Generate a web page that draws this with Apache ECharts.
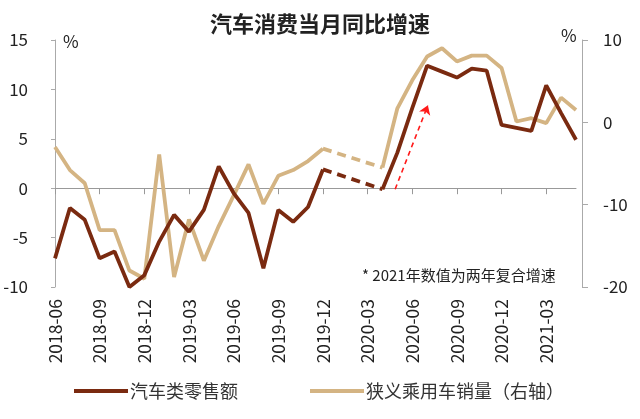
<!DOCTYPE html>
<html>
<head>
<meta charset="utf-8">
<script src="https://cdn.jsdelivr.net/npm/echarts@6/dist/echarts.min.js"></script>
<style>
  html, body { margin: 0; padding: 0; background: #fff; }
  #chart { width: 640px; height: 419px; }
</style>
</head>
<body>
<div id="chart"></div>
<script>
// 月份：2018-06 ~ 2021-05
const months = [
  '2018-06','2018-07','2018-08','2018-09','2018-10','2018-11','2018-12',
  '2019-01','2019-02','2019-03','2019-04','2019-05','2019-06','2019-07','2019-08','2019-09','2019-10','2019-11','2019-12',
  '2020-01','2020-02','2020-03','2020-04','2020-05','2020-06','2020-07','2020-08','2020-09','2020-10','2020-11','2020-12',
  '2021-01','2021-02','2021-03','2021-04','2021-05'
];
// 汽车类零售额（左轴，%）
const autoRetail = [
  -7.1, -2.0, -3.2, -7.1, -6.4, -10.0, -8.8,
  -5.4, -2.7, -4.4, -2.2, 2.2, -0.5, -2.5, -8.1, -2.2, -3.4, -1.9, 1.9,
  null, null, null, -0.1, 3.6, 8.1, 12.4, 11.8, 11.2, 12.1, 11.9, 6.4,
  6.1, 5.8, 10.4, 7.6, 4.9
];
// 狭义乘用车销量（右轴，%）
const carSales = [
  -3.0, -5.8, -7.4, -13.1, -13.1, -18.0, -19.0,
  -3.9, -18.8, -11.8, -16.8, -12.6, -8.9, -5.1, -9.9, -6.5, -5.8, -4.7, -3.2,
  null, null, null, -5.5, 1.7, 5.1, 8.0, 9.0, 7.4, 8.1, 8.1, 6.6,
  0.1, 0.5, -0.1, 3.0, 1.5
];
// 2020-01 ~ 2020-03 缺口用虚线连接
const gapIdx = [18, 22];
// 红色虚线箭头（月份序号, 左轴数值）
const arrowFrom = [22.85, -0.1];
const arrowTo = [25.05, 8.4];

const leftTicks = { min: -10, max: 15, interval: 5 };
const rightTicks = { min: -20, max: 10, interval: 10 };

function gapSeries(arr) {
  return arr.map((v, i) => (gapIdx.indexOf(i) >= 0 ? v : null));
}

const darkColor = '#7a2a10';
const lightColor = '#d4b483';
const font = '"Noto Sans CJK SC", "Noto Sans", sans-serif';

const chart = echarts.init(document.getElementById('chart'));

const option = {
  animation: false,
  textStyle: { fontFamily: font },
  title: {
    text: '汽车消费当月同比增速',
    left: 'center',
    top: 8,
    textStyle: { fontSize: 22, fontWeight: 'bold', color: '#222', fontFamily: font }
  },
  grid: { left: 55, right: 64, top: 40, bottom: 132 },
  legend: {
    bottom: 14,
    left: 69,
    icon: 'rect',
    itemWidth: 54,
    itemHeight: 4,
    itemGap: 72,
    textStyle: { fontSize: 18, color: '#333', padding: [0, 0, 0, -3] },
    data: ['汽车类零售额', '狭义乘用车销量（右轴）']
  },
  xAxis: [
    {
      type: 'category',
      data: months,
      boundaryGap: false,
      axisLine: { onZero: true, lineStyle: { color: '#999', width: 1 } },
      axisTick: { show: true, interval: 2, length: 6, inside: false, lineStyle: { color: '#999' } },
      axisLabel: { show: false }
    },
    {
      type: 'category',
      data: months,
      boundaryGap: false,
      position: 'bottom',
      axisLine: { show: false, onZero: false },
      axisTick: { show: false },
      axisLabel: { interval: 2, rotate: 90, fontSize: 17.5, color: '#222', margin: 12 }
    },
    {
      type: 'value',
      min: 0,
      max: months.length - 1,
      show: false
    }
  ],
  yAxis: [
    {
      type: 'value',
      min: leftTicks.min,
      max: leftTicks.max,
      interval: leftTicks.interval,
      splitLine: { show: false },
      axisLine: { show: true, lineStyle: { color: '#aaa' } },
      axisTick: { show: true, length: 4, lineStyle: { color: '#aaa' } },
      axisLabel: { fontSize: 17, color: '#222', margin: 27 }
    },
    {
      type: 'value',
      min: rightTicks.min,
      max: rightTicks.max,
      interval: rightTicks.interval,
      position: 'right',
      offset: 6,
      splitLine: { show: false },
      axisLine: { show: true, onZero: false, lineStyle: { color: '#aaa' } },
      axisTick: { show: true, length: 6, lineStyle: { color: '#aaa' } },
      axisLabel: { fontSize: 17, color: '#222', margin: 21 }
    }
  ],
  graphic: [
    { type: 'text', left: 63, top: 33, style: { text: '%', fontSize: 17, fill: '#222', fontFamily: font } },
    { type: 'text', left: 561, top: 27, style: { text: '%', fontSize: 17, fill: '#222', fontFamily: font } },
    { type: 'text', left: 362, top: 268, style: { text: '* 2021年数值为两年复合增速', fontSize: 15, fill: '#222', fontFamily: font } }
  ],
  series: [
    {
      name: '汽车类零售额',
      type: 'line',
      data: autoRetail,
      xAxisIndex: 0,
      yAxisIndex: 0,
      symbol: 'none',
      z: 3,
      lineStyle: { color: darkColor, width: 3.8 },
      itemStyle: { color: darkColor }
    },
    {
      name: '狭义乘用车销量（右轴）',
      type: 'line',
      data: carSales,
      xAxisIndex: 0,
      yAxisIndex: 1,
      symbol: 'none',
      z: 2,
      lineStyle: { color: lightColor, width: 3.8 },
      itemStyle: { color: lightColor }
    },
    {
      name: '汽车类零售额',
      type: 'line',
      data: gapSeries(autoRetail),
      connectNulls: true,
      xAxisIndex: 0,
      yAxisIndex: 0,
      symbol: 'none',
      z: 3,
      lineStyle: { color: darkColor, width: 3.8, type: [9, 6] },
      itemStyle: { color: darkColor }
    },
    {
      name: '狭义乘用车销量（右轴）',
      type: 'line',
      data: gapSeries(carSales),
      connectNulls: true,
      xAxisIndex: 0,
      yAxisIndex: 1,
      symbol: 'none',
      z: 2,
      lineStyle: { color: lightColor, width: 3.8, type: [9, 6] },
      itemStyle: { color: lightColor }
    },
    {
      type: 'lines',
      coordinateSystem: 'cartesian2d',
      xAxisIndex: 2,
      yAxisIndex: 0,
      symbol: ['none', 'arrow'],
      symbolSize: 9,
      z: 4,
      lineStyle: { color: '#ff1a1a', width: 1.6, type: [5, 4], opacity: 1 },
      data: [{ coords: [arrowFrom, arrowTo] }]
    }
  ]
};

chart.setOption(option);
</script>
</body>
</html>
